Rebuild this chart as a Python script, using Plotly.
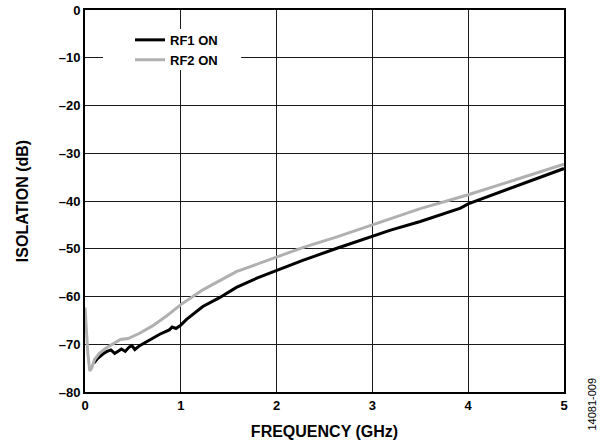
import plotly.graph_objects as go

# RF2 ON (gray)
rf2_freq = [0.0, 0.015, 0.03, 0.05, 0.07, 0.1, 0.15, 0.22, 0.3, 0.37, 0.45, 0.57, 0.7, 0.85, 1.0,
            1.23, 1.58, 2.0, 2.28, 2.63, 3.0, 3.19, 3.5, 4.0, 4.5, 5.0]
rf2_iso = [-62.3, -67.0, -72.0, -75.6, -75.0, -73.2, -71.9, -70.8, -69.8, -69.0, -68.8, -67.7,
           -66.2, -64.1, -61.7, -58.6, -54.8, -51.8, -49.7, -47.5, -45.0, -43.6, -41.6, -38.7,
           -35.5, -32.3]

# RF1 ON (black)
rf1_freq = [0.09, 0.13, 0.19, 0.23, 0.27, 0.31, 0.35, 0.38, 0.42, 0.46, 0.49, 0.52, 0.57, 0.62,
            0.68, 0.78, 0.88, 0.91, 0.95, 1.0, 1.06, 1.23, 1.4, 1.58, 1.8, 2.0, 2.28, 2.63,
            3.0, 3.19, 3.5, 3.92, 4.0, 4.5, 5.0]
rf1_iso = [-74.0, -73.0, -72.0, -71.5, -71.2, -71.9, -71.4, -71.0, -71.5, -70.6, -70.3, -71.1,
           -70.3, -69.7, -69.1, -67.9, -67.0, -66.4, -66.7, -66.0, -64.8, -62.1, -60.3, -58.1,
           -56.1, -54.5, -52.4, -49.9, -47.3, -46.1, -44.3, -41.5, -40.6, -36.9, -33.2]

x_ticks = [0, 1, 2, 3, 4, 5]
y_ticks = [0, -10, -20, -30, -40, -50, -60, -70, -80]
x_tick_text = ["<b>%d</b>" % v for v in x_ticks]
y_tick_text = ["<b>%s</b>" % str(v).replace("-", "\u2013") for v in y_ticks]

FONT = "Liberation Sans"

fig = go.Figure()
fig.add_trace(go.Scatter(x=rf1_freq, y=rf1_iso, mode="lines", name="<b>RF1 ON</b>",
                         line=dict(color="#000000", width=3)))
fig.add_trace(go.Scatter(x=rf2_freq, y=rf2_iso, mode="lines", name="<b>RF2 ON</b>",
                         line=dict(color="#b0b0b0", width=3)))

axis_common = dict(
    showgrid=True, gridcolor="#1a1a1a", gridwidth=1.2,
    showline=True, linecolor="#000000", linewidth=2, mirror=True,
    zeroline=False, ticks="", automargin=False,
    tickfont=dict(family=FONT, size=13, color="#000000"),
)

fig.update_xaxes(range=[0, 5], tickvals=x_ticks, ticktext=x_tick_text,
                 title=dict(text="<b>FREQUENCY (GHz)</b>", standoff=14,
                            font=dict(family=FONT, size=16, color="#000000")),
                 **axis_common)
fig.update_yaxes(range=[-80, 0], tickvals=y_ticks, ticktext=y_tick_text,
                 title=dict(text="<b>ISOLATION (dB)</b>", standoff=26,
                            font=dict(family=FONT, size=16, color="#000000")),
                 **axis_common)

fig.update_layout(
    width=603, height=445,
    margin=dict(l=85, r=39, t=10, b=53),
    paper_bgcolor="white", plot_bgcolor="white",
    showlegend=True,
    legend=dict(x=0.094, y=0.961, xanchor="left", yanchor="top",
                bgcolor="rgba(0,0,0,0)", borderwidth=0,
                font=dict(family=FONT, size=13, color="#000000"),
                itemwidth=30, tracegroupgap=0),
    shapes=[dict(type="rect", xref="paper", yref="paper",
                 x0=0.0376, x1=0.326, y0=0.843, y1=0.950,
                 fillcolor="white", line=dict(width=0), layer="above")],
    annotations=[dict(text="14081-009", xref="paper", yref="paper",
                      x=1.075, y=-0.105, showarrow=False, textangle=-90,
                      font=dict(family=FONT, size=11, color="#000000"))],
)

fig.write_html("out.html", config={"displayModeBar": False},
               post_script="document.body.style.margin='0px';")
